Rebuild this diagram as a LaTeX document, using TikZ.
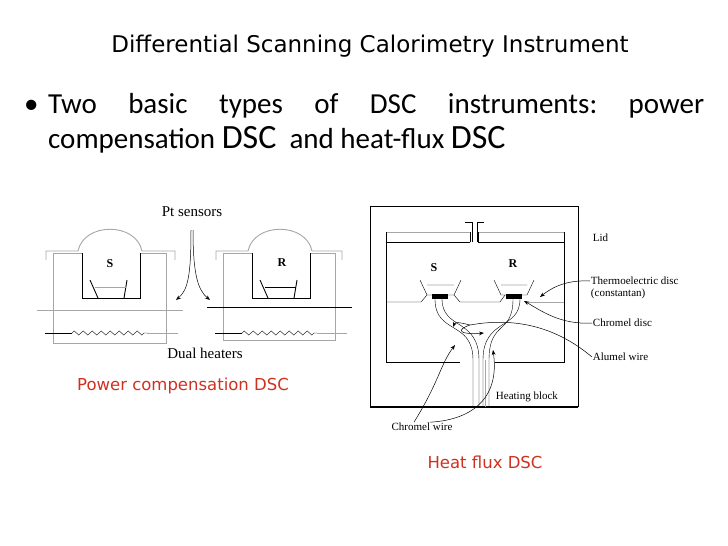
\documentclass[tikz,border=0pt]{standalone}
\usepackage{fontspec}
\setmainfont{Carlito}
\newfontfamily\serifdraw{Liberation Serif}
\newfontfamily\titlefont{DejaVu Sans}
\usetikzlibrary{arrows.meta,decorations.pathmorphing}
\definecolor{redlabel}{HTML}{D03020}
\tikzset{
  part/.style={line width=0.9pt},
  greypart/.style={line width=0.9pt,draw=gray!70},
  small/.style={font=\serifdraw\fontsize{11}{12}\selectfont,inner sep=0.75pt},
  letter/.style={font=\serifdraw\bfseries\fontsize{12}{13}\selectfont,inner sep=0.75pt},
  pointer/.style={-{Stealth[length=5pt]},line width=0.5pt},
  caption/.style={font=\titlefont\fontsize{16.5}{18}\selectfont,text=redlabel}
}
\newcommand{\bigdsc}{{\fontsize{34}{36}\selectfont DSC}}
\begin{document}
\begin{tikzpicture}[x=1pt,y=1pt,yscale=-1]
\useasboundingbox (0,0) rectangle (728,546);

% Title and bullet text
\node (title) at (370,46) {\titlefont\fontsize{23}{26}\selectfont Differential Scanning Calorimetry Instrument};
\node[anchor=base west,inner sep=0pt] (dot) at (24,113) {\fontsize{29}{30}\selectfont\textbullet};
\node[anchor=base west,inner sep=0pt] (line1) at (48,113)
  {\fontsize{29}{30}\selectfont\hbox to 656pt{Two\hfill basic\hfill types\hfill of\hfill DSC\hfill instruments:\hfill power}};
\node[anchor=base west,inner sep=0pt] (line2) at (48,148)
  {\fontsize{29}{30}\selectfont compensation \bigdsc~ and heat-flux \bigdsc};

% Power compensation DSC, left unit
\draw[greypart] (53,343) -- (53,253) -- (82,253);
\draw[greypart] (140,253) -- (166,253) -- (166,343) -- (53,343);
\draw[greypart] (46,260) -- (46,251) -- (78,251) .. controls (84,222) and (136,222) .. (142,251) -- (175,251) -- (175,260);
\draw[part] (82,253) -- (82,298) -- (140,298) -- (140,253);
\draw[part] (90,280) -- (98,298) (127,280) -- (124,298);
\draw[greypart] (95,287) -- (126,287);
\node[letter] (s1) at (110,264) {S};
\draw[greypart] (37,310) -- (183,310);
\draw (45,333) -- (72,333);
\draw[decorate,decoration={zigzag,segment length=9pt,amplitude=2pt}] (72,333) -- (147,333);
\draw[greypart] (147,333) -- (178,333);

% Power compensation DSC, right unit
\draw[greypart] (223,340) -- (223,253) -- (252,253);
\draw[greypart] (310,253) -- (335,253) -- (335,340) -- (223,340);
\draw[greypart] (216,260) -- (216,251) -- (248,251) .. controls (254,222) and (306,222) .. (312,251) -- (342,251) -- (342,260);
\draw[part] (252,253) -- (252,298) -- (310,298) -- (310,253);
\draw[part] (260,280) -- (268,298) (297,280) -- (294,298);
\draw (265,287) -- (296,287);
\node[letter] (r1) at (282,263) {R};
\draw[part] (207,307) -- (352,307);
\draw (215,333) -- (242,333);
\draw[decorate,decoration={zigzag,segment length=9pt,amplitude=2pt}] (242,333) -- (317,333);
\draw[greypart] (317,333) -- (347,333);

\node[small,font=\serifdraw\fontsize{15}{16}\selectfont] (pt) at (192,212) {Pt sensors};
\draw[pointer] (191,230) .. controls (191,275) and (188,290) .. (176,300);
\draw[pointer] (193,230) .. controls (193,275) and (198,290) .. (210,300);
\node[small,font=\serifdraw\fontsize{15}{16}\selectfont] (heaters) at (205,353) {Dual heaters};
\node[caption] (pc) at (183,386) {Power compensation DSC};

% Heat flux DSC
\draw (370,407) -- (370,206) -- (578,206) -- (578,407);
\draw[line width=1.3pt] (370,407) -- (578,407);
\draw[greypart] (386,232) -- (470,232) (478,232) -- (564,232);
\draw[part] (386,242) -- (470,242) (478,242) -- (564,242);
\draw (386,232) -- (386,242) (564,232) -- (564,242);
\draw (470,232) -- (470,242) (478,232) -- (478,242);
\draw (472,242) -- (472,222) -- (465,222) (477,242) -- (477,222) -- (484,222);
\draw (386,242) -- (386,362) -- (460,362) (495,362) -- (564,362) -- (564,242);
% platform and pans
\draw (386,302) -- (421,302) -- (427,295);
\draw (454,295) -- (460,302) -- (500,302) -- (505,295);
\draw[greypart] (528,302) -- (564,302);
\draw (420,280) -- (427,295) -- (454,295) -- (461,280) (427,285) -- (454,285);
\draw (494,280) -- (501,295) -- (527,295) -- (534,280) (501,285) -- (527,285);
\fill (432,294) rectangle (448,299);
\fill (506,294) rectangle (522,299);
\node[letter] (s2) at (434,268) {S};
\node[letter] (r2) at (513,264) {R};
% wires
\draw (435,299) .. controls (435,335) and (473,320) .. (473,360) -- (473,407);
\draw (442,299) .. controls (442,330) and (479,318) .. (479,360) -- (479,407);
\draw (520,299) .. controls (520,330) and (483,318) .. (483,360) -- (483,407);
\draw (513,299) .. controls (513,335) and (489,320) .. (489,360) -- (489,407);
\draw[greypart,line width=0.6pt] (485,360) -- (485,407);
% labels
\node[small,anchor=west] (lid) at (592,238) {Lid};
\node[small,anchor=west,align=left] (disc) at (590,288) {Thermoelectric disc\\(constantan)};
\node[small,anchor=west] (chromeldisc) at (592,323) {Chromel disc};
\node[small,anchor=west] (alumel) at (592,357) {Alumel wire};
\node[small,anchor=west] (block) at (495,397) {Heating block};
\node[small] (chromelwire) at (422,427) {Chromel wire};
\draw[pointer] (disc.west) ++(0,-7) .. controls (570,280) and (555,285) .. (540,297);
\draw[pointer] (chromeldisc.west) .. controls (560,325) and (540,310) .. (524,301);
\draw[pointer] (alumel.west) .. controls (560,330) and (520,316) .. (470,325) .. controls (455,330) and (460,335) .. (484,333);
\draw[pointer] (470,325) .. controls (458,322) and (455,322) .. (453,327);
\draw[pointer] (chromelwire.north) ++(-8,0) .. controls (440,380) and (440,365) .. (455,345);
\draw[pointer] (chromelwire.north) ++(8,0) .. controls (470,420) and (500,400) .. (493,350);
\node[caption] (hf) at (485,462) {Heat flux DSC};
\end{tikzpicture}
\end{document}
